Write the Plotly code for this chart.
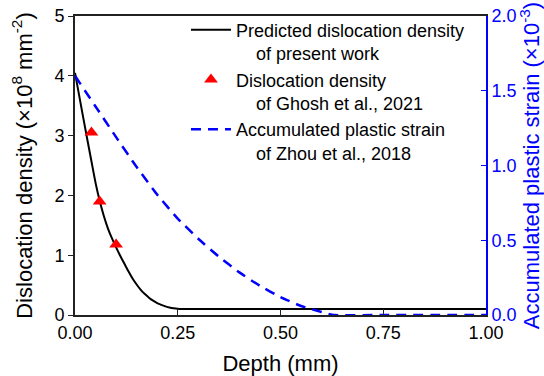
import plotly.graph_objects as go

# Predicted dislocation density (present work), 1e8 mm^-2
depth_pred = [0.0, 0.02, 0.04, 0.05, 0.06, 0.07, 0.08, 0.09, 0.10, 0.11, 0.12, 0.13, 0.14, 0.15,
              0.16, 0.17, 0.18, 0.19, 0.20, 0.21, 0.22, 0.23, 0.24, 0.25, 0.26, 0.27, 0.5, 0.75, 1.0]
rho_pred = [4.05, 3.30, 2.57, 2.21, 1.91, 1.66, 1.45, 1.28, 1.13, 0.99, 0.86, 0.73, 0.61, 0.51,
            0.42, 0.35, 0.29, 0.24, 0.20, 0.17, 0.145, 0.125, 0.112, 0.104, 0.1, 0.1, 0.1, 0.1, 0.1]

# Ghosh et al., 2021 data
depth_ghosh = [0.04, 0.06, 0.10]
rho_ghosh = [3.05, 1.90, 1.18]

# Accumulated plastic strain, Zhou et al., 2018 (x1e-3)
depth_strain = [0.0, 0.05, 0.10, 0.15, 0.20, 0.25, 0.30, 0.35, 0.40, 0.45, 0.50, 0.55, 0.60, 0.63, 0.75, 1.0]
strain = [1.60, 1.395, 1.19, 0.99, 0.805, 0.645, 0.51, 0.39, 0.285, 0.195, 0.12, 0.06, 0.02, 0.0, 0.0, 0.0]

x_ticks = [0, 0.25, 0.5, 0.75, 1.0]
x_ticklabels = ["0.00", "0.25", "0.50", "0.75", "1.00"]
y_ticks = [0, 1, 2, 3, 4, 5]
y2_ticks = [0, 0.5, 1.0, 1.5, 2.0]
y2_ticklabels = ["0.0", "0.5", "1.0", "1.5", "2.0"]

FONT = "Liberation Sans, Arial, sans-serif"
BLUE = "#0000ff"
ind = "\u00a0" * 4

fig = go.Figure()
fig.add_trace(go.Scatter(
    x=depth_pred, y=rho_pred, mode="lines",
    line=dict(color="black", width=2, shape="spline", smoothing=0.5),
    name="Predicted dislocation density<br>" + ind + "of present work"))
fig.add_trace(go.Scatter(
    x=depth_ghosh, y=rho_ghosh, mode="markers",
    marker=dict(symbol="triangle-up", color="red", size=12),
    name="Dislocation density<br>" + ind + "of Ghosh et al., 2021"))
fig.add_trace(go.Scatter(
    x=depth_strain, y=strain, mode="lines", yaxis="y2",
    line=dict(color=BLUE, width=2.5, dash="10px,7px", shape="spline", smoothing=0.5),
    name="Accumulated plastic strain<br>" + ind + "of Zhou et al., 2018"))

fig.update_layout(
    width=544, height=376,
    margin=dict(l=75, r=58, t=13, b=61),
    plot_bgcolor="white", paper_bgcolor="white",
    font=dict(family=FONT, size=18, color="black"),
    showlegend=True,
    legend=dict(x=0.27, y=1.015, xanchor="left", yanchor="top", bgcolor="rgba(0,0,0,0)",
                font=dict(size=18), valign="top", tracegroupgap=0, itemwidth=40),
    xaxis=dict(range=[0, 1], tickvals=x_ticks, ticktext=x_ticklabels, ticks="inside", ticklen=6,
               tickcolor="#222", showline=True, linecolor="#222", linewidth=2, mirror=True,
               showgrid=False, zeroline=False, automargin=False,
               title=dict(text="Depth (mm)", standoff=16)),
    yaxis=dict(range=[0, 5], tickvals=y_ticks, ticks="outside", ticklen=5, tickcolor="#222",
               showline=True, linecolor="#222", linewidth=2, showgrid=False, zeroline=False,
               automargin=False,
               title=dict(text="Dislocation density (×10<sup>8</sup> mm<sup>-2</sup>)", standoff=16)),
    yaxis2=dict(range=[0, 2], overlaying="y", side="right", tickvals=y2_ticks, ticktext=y2_ticklabels,
                ticks="inside", ticklen=5, tickcolor=BLUE, showline=True, linecolor=BLUE, linewidth=2,
                showgrid=False, zeroline=False, tickfont=dict(color=BLUE), automargin=False,
                title=dict(text="Accumulated plastic strain (×10<sup>-3</sup>)", font=dict(color=BLUE), standoff=9)),
)

fig.write_html("out.html")
